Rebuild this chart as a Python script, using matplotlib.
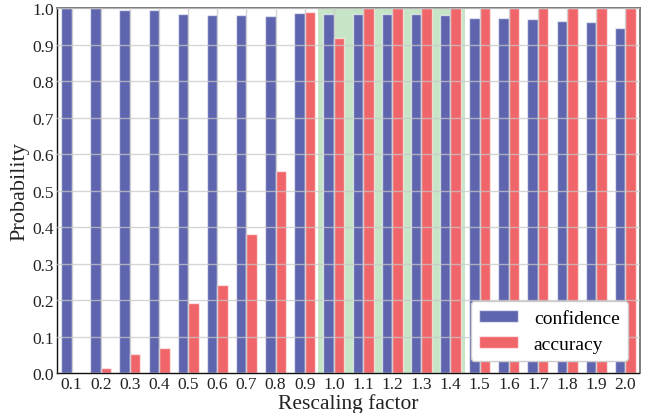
import matplotlib
matplotlib.use("Agg")
import matplotlib.pyplot as plt
import numpy as np

factors = ["0.1", "0.2", "0.3", "0.4", "0.5", "0.6", "0.7", "0.8", "0.9", "1.0",
           "1.1", "1.2", "1.3", "1.4", "1.5", "1.6", "1.7", "1.8", "1.9", "2.0"]
confidence = [1.0, 0.999, 0.995, 0.995, 0.983, 0.982, 0.980, 0.979, 0.987, 0.983,
              0.985, 0.985, 0.983, 0.981, 0.974, 0.974, 0.969, 0.964, 0.961, 0.946]
accuracy = [0.0, 0.014, 0.053, 0.068, 0.193, 0.241, 0.382, 0.553, 0.990, 0.919,
            1.0, 1.0, 1.0, 1.0, 1.0, 1.0, 1.0, 1.0, 1.0, 1.0]
shade_range = (8.45, 13.5)

plt.rcParams['font.family'] = ['Liberation Serif', 'DejaVu Serif']

fig = plt.figure(figsize=(6.57, 4.14), dpi=100)
ax = fig.add_axes([0.0868, 0.0966, 0.974 - 0.0868, 0.978 - 0.0966])

x = np.arange(len(factors))
w = 0.36
blue = '#5E65AE'
red = '#F0656A'

ax.axvspan(shade_range[0], shade_range[1], color='#C6E4C6', zorder=0, lw=0)
ax.bar(x - w / 2, confidence, width=w, color=blue, edgecolor=(1, 1, 1, 0.6),
       linewidth=1.0, label='confidence', zorder=2)
ax.bar(x + w / 2, accuracy, width=w, color=red, edgecolor=(1, 1, 1, 0.6),
       linewidth=1.0, label='accuracy', zorder=2)

ax.set_xlim(-0.5, 19.5)
ax.set_ylim(0, 1.0)
ax.set_xticks(x)
ax.set_xticklabels(factors)
ax.set_yticks(np.arange(0, 1.01, 0.1))
ax.set_yticklabels([f"{v:.1f}" for v in np.arange(0, 1.01, 0.1)])
ax.tick_params(axis='both', length=0, labelsize=12.5, pad=2, colors='#222222')
ax.grid(True, color='#c8c8c8', alpha=0.75, linewidth=1.0, zorder=3)
ax.set_axisbelow(False)
for g in ax.get_xgridlines() + ax.get_ygridlines():
    g.set_zorder(3)

for s in ['top', 'right']:
    ax.spines[s].set_color('#666666')
    ax.spines[s].set_linewidth(1.2)
for s in ['left', 'bottom']:
    ax.spines[s].set_color('#111111')
    ax.spines[s].set_linewidth(1.0)
ax.spines['bottom'].set_linestyle((0, (1, 1)))

ax.set_xlabel('Rescaling factor', fontsize=15.5, labelpad=1, color='#222222')
ax.set_ylabel('Probability', fontsize=16, labelpad=2, color='#222222')

leg = ax.legend(loc='lower right', fontsize=14, handlelength=2.0, handleheight=0.6,
                frameon=True, fancybox=True, borderpad=0.45, labelspacing=0.45,
                handletextpad=0.8, borderaxespad=0.6)
leg.get_frame().set_edgecolor('#cccccc')
leg.get_frame().set_facecolor('white')
leg.get_frame().set_alpha(1.0)
leg.set_zorder(5)

fig.savefig('out.png', dpi=100)
